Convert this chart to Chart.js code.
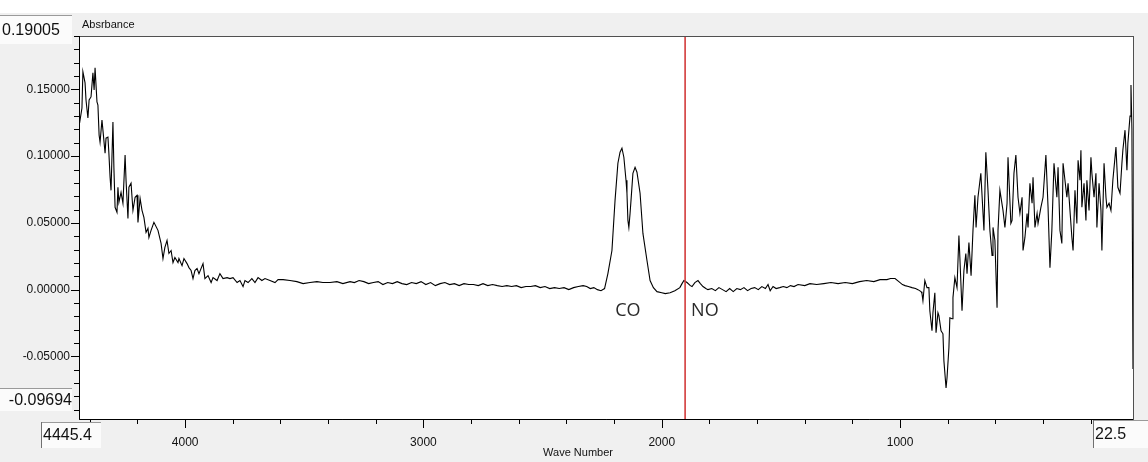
<!DOCTYPE html>
<html>
<head>
<meta charset="utf-8">
<script src="https://cdn.jsdelivr.net/npm/chart.js@4"></script>
<style>
  html, body { margin: 0; padding: 0; background: #f0f0f0; }
  #wrap { width: 1148px; height: 462px; }
</style>
</head>
<body>
<div id="wrap"><canvas id="spectrum" width="1148" height="462"></canvas></div>
<script>
// axis range of the IR window
const X_MAX = 4445.4;
const X_MIN = 22.5;
const Y_MAX = 0.19005;
const Y_MIN = -0.09694;

const xTickValues = [1000, 2000, 3000, 4000];
const yTickValues = [-0.05, 0, 0.05, 0.10, 0.15];
const xMinorStep = 200;
const yMinorStep = 0.01;

const cursorWave = 1902;
const peakNames = ['CO', 'NO'];
const peakWaves = [2142, 1819];
const peakLabelY = -0.0158;

// spectrum, wave number (cm-1) / absorbance
const waveNumbers = [
  4445, 4441, 4433, 4429, 4420, 4416, 4408, 4403, 4395, 4387,
  4382, 4378, 4370, 4366, 4361, 4357, 4349, 4345, 4336, 4332,
  4324, 4320, 4315, 4311, 4303, 4299, 4294, 4286, 4282, 4278,
  4269, 4261, 4252, 4248, 4240, 4236, 4227, 4219, 4210, 4202,
  4198, 4189, 4181, 4173, 4164, 4156, 4152, 4143, 4131, 4114,
  4101, 4093, 4085, 4076, 4068, 4059, 4051, 4043, 4030, 4026,
  4013, 4005, 3992, 3984, 3975, 3967, 3959, 3950, 3942, 3925,
  3917, 3904, 3891, 3883, 3866, 3854, 3841, 3824, 3812, 3799,
  3782, 3770, 3757, 3749, 3736, 3720, 3707, 3694, 3678, 3665,
  3644, 3623, 3610, 3589, 3560, 3531, 3505, 3476, 3447, 3422,
  3392, 3363, 3338, 3308, 3290, 3270, 3250, 3230, 3210, 3190,
  3170, 3150, 3130, 3110, 3090, 3070, 3050, 3030, 3010, 2990,
  2970, 2950, 2930, 2910, 2890, 2870, 2850, 2830, 2810, 2790,
  2770, 2750, 2730, 2710, 2690, 2670, 2650, 2630, 2610, 2590,
  2570, 2550, 2530, 2510, 2490, 2470, 2450, 2430, 2410, 2390,
  2370, 2350, 2330, 2315, 2300, 2285, 2270, 2255, 2240, 2226,
  2209, 2196, 2184, 2175, 2167, 2159, 2150, 2146, 2142, 2138,
  2133, 2129, 2121, 2112, 2104, 2091, 2079, 2062, 2049, 2035,
  2020, 2000, 1985, 1965, 1945, 1924, 1915, 1907, 1894, 1880,
  1873, 1861, 1848, 1838, 1827, 1815, 1806, 1790, 1775, 1760,
  1745, 1730, 1715, 1700, 1685, 1670, 1655, 1640, 1625, 1610,
  1595, 1580, 1565, 1554, 1545, 1533, 1520, 1505, 1490, 1475,
  1460, 1445, 1428, 1400, 1378, 1350, 1320, 1290, 1260, 1230,
  1200, 1170, 1140, 1110, 1084, 1055, 1040, 1021, 1005, 990,
  979, 965, 950, 935, 925, 912, 908, 904, 896, 887,
  879, 875, 866, 862, 854, 849, 841, 837, 828, 824,
  820, 816, 807, 803, 795, 791, 782, 778, 770, 761,
  753, 749, 740, 732, 724, 719, 711, 702, 694, 686,
  681, 673, 661, 656, 648, 640, 631, 623, 614, 610,
  602, 593, 589, 581, 568, 560, 551, 547, 535, 530,
  522, 514, 505, 497, 488, 484, 476, 467, 463, 455,
  446, 442, 434, 425, 421, 409, 400, 388, 379, 371,
  363, 354, 342, 337, 329, 321, 316, 308, 300, 295,
  287, 279, 274, 266, 258, 253, 245, 241, 237, 228,
  220, 216, 207, 199, 195, 186, 178, 174, 165, 157,
  153, 144, 136, 132, 123, 115, 107, 94, 86, 77,
  69, 65, 56, 48, 44, 35, 31, 27, 22.5
];

const absorbance = [
  0.1308, 0.1271, 0.1361, 0.1632, 0.1549, 0.1421, 0.1286, 0.1421, 0.1444, 0.1624,
  0.1496, 0.1662, 0.1406, 0.1383, 0.1158, 0.1105, 0.1271, 0.1195, 0.1023, 0.1135,
  0.1143, 0.1023, 0.0842, 0.0744, 0.1256, 0.0917, 0.0617, 0.0579, 0.0767, 0.0654,
  0.0729, 0.0647, 0.1008, 0.0820, 0.0534, 0.0767, 0.0797, 0.0594, 0.0692, 0.0707,
  0.0504, 0.0684, 0.0594, 0.0541, 0.0429, 0.0459, 0.0391, 0.0444, 0.0504, 0.0444,
  0.0346, 0.0233, 0.0316, 0.0368, 0.0271, 0.0293, 0.0203, 0.0241, 0.0203, 0.0233,
  0.0180, 0.0233, 0.0195, 0.0165, 0.0143, 0.0083, 0.0143, 0.0158, 0.0120, 0.0195,
  0.0083, 0.0105, 0.0053, 0.0090, 0.0068, 0.0120, 0.0083, 0.0090, 0.0083, 0.0090,
  0.0053, 0.0068, 0.0023, 0.0068, 0.0053, 0.0083, 0.0053, 0.0090, 0.0068, 0.0083,
  0.0068, 0.0053, 0.0075, 0.0075, 0.0068, 0.0060, 0.0045, 0.0053, 0.0060, 0.0053,
  0.0053, 0.0060, 0.0045, 0.0060, 0.0053, 0.0068, 0.0060, 0.0045, 0.0053, 0.0060,
  0.0038, 0.0053, 0.0045, 0.0060, 0.0045, 0.0038, 0.0053, 0.0045, 0.0060, 0.0038,
  0.0053, 0.0030, 0.0045, 0.0053, 0.0038, 0.0045, 0.0030, 0.0045, 0.0038, 0.0038,
  0.0030, 0.0045, 0.0030, 0.0038, 0.0030, 0.0023, 0.0030, 0.0023, 0.0030, 0.0015,
  0.0023, 0.0023, 0.0030, 0.0015, 0.0023, 0.0008, 0.0015, 0.0008, 0.0015, 0.0000,
  0.0015, 0.0023, 0.0030, 0.0023, 0.0008, 0.0015, 0.0000, -0.0008, 0.0008, 0.0120,
  0.0293, 0.0669, 0.0947, 0.1030, 0.1060, 0.0992, 0.0820, 0.0722, 0.0519, 0.0466,
  0.0570, 0.0669, 0.0872, 0.0917, 0.0880, 0.0722, 0.0421, 0.0218, 0.0068, 0.0015,
  -0.0015, -0.0023, -0.0030, -0.0023, -0.0008, 0.0015, 0.0045, 0.0068, 0.0053, 0.0030,
  0.0023, 0.0053, 0.0068, 0.0045, 0.0023, 0.0008, 0.0000, 0.0008, -0.0008, 0.0015,
  0.0000, -0.0015, 0.0008, -0.0015, 0.0008, 0.0000, 0.0015, -0.0008, 0.0008, 0.0015,
  0.0000, 0.0023, 0.0008, 0.0038, -0.0008, 0.0023, 0.0008, 0.0015, 0.0023, 0.0015,
  0.0030, 0.0023, 0.0038, 0.0030, 0.0045, 0.0038, 0.0045, 0.0053, 0.0045, 0.0053,
  0.0045, 0.0060, 0.0068, 0.0060, 0.0075, 0.0075, 0.0083, 0.0083, 0.0060, 0.0038,
  0.0030, 0.0023, 0.0015, 0.0008, 0.0000, -0.0015, -0.0030, -0.0083, 0.0068, 0.0015,
  0.0015, -0.0158, -0.0308, -0.0173, -0.0023, -0.0323, -0.0173, -0.0195, -0.0308, -0.0308,
  -0.0331, -0.0534, -0.0737, -0.0662, -0.0436, -0.0211, -0.0218, -0.0060, 0.0090, 0.0015,
  0.0406, 0.0241, -0.0158, 0.0143, 0.0271, 0.0120, 0.0353, 0.0105, 0.0444, 0.0707,
  0.0466, 0.0692, 0.0872, 0.0707, 0.0444, 0.1030, 0.0744, 0.0444, 0.0256, 0.0466,
  0.0368, -0.0135, 0.0444, 0.0744, 0.0594, 0.0466, 0.0647, 0.0992, 0.0496, 0.0519,
  0.0872, 0.1008, 0.0692, 0.0571, 0.0692, 0.0293, 0.0391, 0.0571, 0.0466, 0.0797,
  0.0647, 0.0842, 0.0466, 0.0571, 0.0496, 0.0617, 0.0692, 0.1008, 0.0617, 0.0165,
  0.0444, 0.0947, 0.0692, 0.0917, 0.0444, 0.0346, 0.0947, 0.0820, 0.0692, 0.0797,
  0.0594, 0.0391, 0.0293, 0.0744, 0.0496, 0.0970, 0.0820, 0.1045, 0.0617, 0.0797,
  0.0519, 0.0820, 0.0594, 0.0992, 0.0872, 0.0692, 0.0872, 0.0466, 0.0797, 0.0594,
  0.0293, 0.0947, 0.0692, 0.0617, 0.0647, 0.0594, 0.0820, 0.1068, 0.0767, 0.0722,
  0.0947, 0.1045, 0.1195, 0.0895, 0.1098, 0.1300, 0.1534, 0.1200, -0.0594
];

const LABEL_FONT = '"Liberation Sans", Arial, sans-serif';
const BOX_FONT = '16px "Liberation Sans", Arial, sans-serif';

function valueBox(ctx, x, y, w, h, text, align) {
  ctx.fillStyle = '#fbfbfb';
  ctx.fillRect(x, y, w, h);
  ctx.strokeStyle = '#9a9a9a';
  ctx.lineWidth = 1;
  ctx.beginPath();
  ctx.moveTo(x, y + 0.5);
  ctx.lineTo(x + w, y + 0.5);
  ctx.stroke();
  ctx.fillStyle = '#111';
  ctx.font = BOX_FONT;
  ctx.textBaseline = 'middle';
  ctx.textAlign = align;
  ctx.fillText(text, align === 'right' ? x + w : x + 2, y + h / 2 + 1);
}

const chrome = {
  id: 'chrome',
  beforeDraw(chart) {
    const { ctx, chartArea: a } = chart;
    ctx.save();
    ctx.fillStyle = '#f0f0f0';
    ctx.fillRect(0, 0, chart.width, chart.height);
    ctx.fillStyle = '#ffffff';
    ctx.fillRect(0, 0, chart.width, 13);
    ctx.fillRect(a.left, a.top, a.right - a.left, a.bottom - a.top);
    ctx.restore();
  },
  afterDraw(chart) {
    const { ctx, chartArea: a } = chart;
    const xs = chart.scales.x, ys = chart.scales.y;
    ctx.save();

    // frame
    ctx.lineWidth = 1;
    ctx.strokeStyle = '#505050';
    ctx.strokeRect(a.left + 0.5, a.top + 0.5, a.right - a.left, a.bottom - a.top);
    ctx.strokeStyle = '#000';
    ctx.beginPath();
    ctx.moveTo(a.left + 0.5, a.top);
    ctx.lineTo(a.left + 0.5, a.bottom + 0.5);
    ctx.lineTo(a.right, a.bottom + 0.5);
    ctx.stroke();

    // cursor
    const cx = xs.getPixelForValue(cursorWave);
    ctx.strokeStyle = '#d23a3a';
    ctx.lineWidth = 1.6;
    ctx.beginPath();
    ctx.moveTo(cx, a.top + 1);
    ctx.lineTo(cx, a.bottom);
    ctx.stroke();
    ctx.lineWidth = 1;

    // tick marks
    ctx.strokeStyle = '#000';
    ctx.beginPath();
    for (let w = xMinorStep; w < X_MAX; w += xMinorStep) {
      const px = Math.round(xs.getPixelForValue(w)) + 0.5;
      const len = w % 1000 === 0 ? 9 : 5;
      ctx.moveTo(px, a.bottom);
      ctx.lineTo(px, a.bottom + len);
    }
    for (let i = -9; i <= 19; i++) {
      const py = Math.round(ys.getPixelForValue(i * yMinorStep)) + 0.5;
      const len = i % 5 === 0 ? 8 : 5;
      ctx.moveTo(a.left, py);
      ctx.lineTo(a.left - len, py);
    }
    ctx.stroke();

    // range boxes
    valueBox(ctx, 0, 15, 72, 29, Y_MAX.toFixed(5), 'left');
    valueBox(ctx, 0, 388, 72, 23, Y_MIN.toFixed(5), 'right');
    valueBox(ctx, 41, 422, 60, 26, X_MAX.toFixed(1), 'left');
    valueBox(ctx, 1093, 420, 55, 28, X_MIN.toFixed(1), 'left');
    ctx.strokeStyle = '#707070';
    ctx.beginPath();
    ctx.moveTo(41.5, 422); ctx.lineTo(41.5, 448);
    ctx.moveTo(1093.5, 420); ctx.lineTo(1093.5, 448);
    ctx.stroke();

    // titles
    ctx.fillStyle = '#111';
    ctx.font = '11px ' + LABEL_FONT;
    ctx.textAlign = 'left';
    ctx.textBaseline = 'middle';
    ctx.fillText('Absrbance', a.left + 3, 25);
    ctx.textAlign = 'center';
    ctx.fillText('Wave Number', 578, 453);

    // peak names
    ctx.font = '18px "Open Sans", sans-serif';
    ctx.fillStyle = '#2a2a2a';
    peakNames.forEach((name, i) => {
      ctx.fillText(name, xs.getPixelForValue(peakWaves[i]), ys.getPixelForValue(peakLabelY));
    });
    ctx.restore();
  }
};

new Chart(document.getElementById('spectrum'), {
  type: 'line',
  data: {
    datasets: [{
      label: 'Absrbance',
      data: waveNumbers.map((w, i) => ({ x: w, y: absorbance[i] })),
      borderColor: '#000000',
      borderWidth: 1.1,
      pointRadius: 0,
      tension: 0,
      fill: false
    }]
  },
  options: {
    responsive: false,
    animation: false,
    devicePixelRatio: 1,
    layout: { padding: { top: 36, right: 15, left: 0, bottom: 0 } },
    plugins: { legend: { display: false }, tooltip: { enabled: false } },
    scales: {
      x: {
        type: 'linear',
        reverse: true,
        min: X_MIN,
        max: X_MAX,
        afterBuildTicks: s => { s.ticks = xTickValues.map(v => ({ value: v })); },
        afterFit: s => { s.height = 43; },
        grid: { display: false, drawTicks: false },
        border: { display: false },
        ticks: {
          padding: 16,
          color: '#111',
          maxRotation: 0,
          autoSkip: false,
          font: { family: LABEL_FONT, size: 12 },
          callback: v => String(v)
        }
      },
      y: {
        type: 'linear',
        min: Y_MIN,
        max: Y_MAX,
        afterBuildTicks: s => { s.ticks = yTickValues.map(v => ({ value: v })); },
        afterFit: s => { s.width = 79; },
        grid: { display: false, drawTicks: false },
        border: { display: false },
        ticks: {
          padding: 9,
          color: '#111',
          font: { family: LABEL_FONT, size: 12 },
          callback: v => v.toFixed(5)
        }
      }
    }
  },
  plugins: [chrome]
});
</script>
</body>
</html>
